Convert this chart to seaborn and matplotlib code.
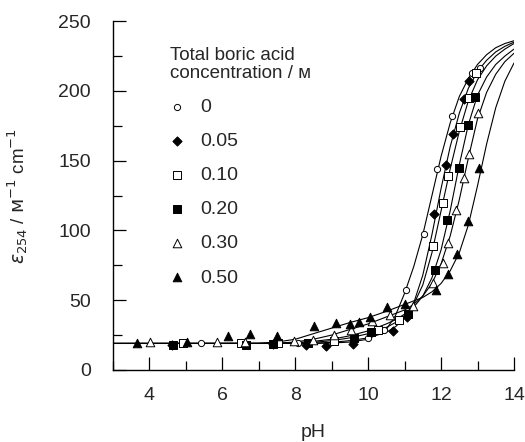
import matplotlib
matplotlib.use("Agg")
import matplotlib.pyplot as plt
from matplotlib.ticker import MultipleLocator
import seaborn as sns
import pandas as pd

# measured points, one pair of lists per total boric acid concentration
ph_0 = [5.42, 8.07, 10.0, 10.44, 11.04, 11.52, 11.9, 12.31, 12.86, 13.06]
eps_0 = [19.5, 19.5, 22.7, 29.0, 57.5, 97.3, 143.7, 182.0, 213.0, 216.7]

ph_005 = [4.62, 7.4, 8.3, 8.85, 9.58, 10.69, 11.07, 11.81, 12.13, 12.32, 12.62, 12.78]
eps_005 = [18.0, 18.3, 17.6, 17.4, 18.6, 28.0, 38.0, 111.5, 146.8, 169.5, 194.0, 207.0]

ph_010 = [4.91, 6.52, 7.53, 9.06, 10.27, 10.85, 11.79, 12.05, 12.2, 12.53, 12.76, 12.95]
eps_010 = [19.6, 19.6, 19.6, 20.5, 28.6, 35.8, 89.0, 119.4, 139.0, 174.0, 195.0, 213.0]

ph_020 = [4.65, 6.66, 7.4, 8.35, 9.6, 10.07, 11.1, 11.84, 12.16, 12.48, 12.73, 12.94]
eps_020 = [18.0, 17.7, 18.3, 19.0, 22.7, 27.4, 40.0, 72.0, 107.5, 145.0, 175.5, 196.0]

ph_030 = [4.02, 5.85, 6.61, 7.96, 8.5, 9.06, 9.54, 10.12, 10.6, 11.22, 11.79, 12.04,
          12.2, 12.41, 12.62, 12.76, 13.0]
eps_030 = [20.0, 20.0, 20.0, 21.0, 21.5, 25.0, 28.6, 35.3, 39.4, 45.8, 62.5, 76.4,
           91.0, 114.6, 137.7, 155.0, 184.0]

ph_050 = [3.65, 5.03, 6.16, 6.76, 7.5, 8.51, 9.12, 9.49, 9.74, 10.04, 10.53, 11.0,
          11.86, 12.19, 12.43, 12.74, 13.05]
eps_050 = [19.6, 19.8, 24.6, 25.8, 24.6, 31.5, 33.9, 33.0, 34.6, 38.2, 45.0, 47.5,
           57.3, 69.0, 83.0, 107.0, 145.0]

# fitted curves
ph_fit = [3, 7, 7.5, 8, 8.5, 9, 9.5, 10, 10.5, 10.75, 11, 11.25, 11.5, 11.75,
          12, 12.25, 12.5, 12.75, 13, 13.25, 13.5, 13.75, 14]
fit_0 = [19, 19, 19, 19, 19, 19.3, 20, 22, 29, 39, 55, 74, 97, 125,
         153, 177, 196, 209, 219, 226, 231, 234, 236]
fit_005 = [19, 19, 19, 19, 19.2, 19.8, 21, 23, 27, 31, 37, 48, 68, 97,
           130, 160, 184, 202, 214, 222, 228, 232, 235]
fit_010 = [19, 19, 19, 19.2, 19.8, 21, 23, 26, 30.5, 34, 39, 47, 61, 84,
           114, 144, 171, 193, 208, 218, 225, 230, 234]
fit_020 = [19, 19, 19, 19.5, 20.5, 22, 24.5, 28, 33, 36, 40, 45, 53, 66,
           86, 114, 147, 176, 197, 210, 219, 225, 230]
fit_030 = [19, 19, 19.2, 20, 22, 25, 29, 33, 38, 40.5, 43, 47, 53, 62,
           76, 96, 122, 152, 180, 199, 212, 221, 227]
fit_050 = [19, 19.2, 20, 22, 26, 30, 34, 37.5, 42, 44.5, 47, 49.5, 52, 56,
           62, 71, 84, 104, 132, 162, 188, 207, 220]

labels = ["0", "0.05", "0.10", "0.20", "0.30", "0.50"]
markers = ["o", "D", "s", "s", "^", "^"]
faces = ["white", "black", "white", "black", "white", "black"]
sizes = [20, 22, 26, 26, 38, 38]

points = [(ph_0, eps_0), (ph_005, eps_005), (ph_010, eps_010),
          (ph_020, eps_020), (ph_030, eps_030), (ph_050, eps_050)]
fits = [fit_0, fit_005, fit_010, fit_020, fit_030, fit_050]

sns.set_style("ticks")
plt.rcParams["font.family"] = ["Liberation Sans", "DejaVu Sans"]
plt.rcParams["mathtext.fontset"] = "dejavusans"

fig = plt.figure(figsize=(5.25, 4.42), dpi=100)
ax = fig.add_axes([0.215, 0.163, 0.764, 0.789])

for fit in fits:
    sns.lineplot(x=ph_fit, y=fit, ax=ax, color="black", linewidth=0.8,
                 estimator=None, sort=False, legend=False)

for (ph, eps), lab, m, fc, s in zip(points, labels, markers, faces, sizes):
    df = pd.DataFrame({"pH": ph, "eps": eps})
    sns.scatterplot(data=df, x="pH", y="eps", ax=ax, marker=m, s=s,
                    color=fc, edgecolor="black", linewidth=0.7,
                    label=lab, legend=False, zorder=3)

ax.set_xlim(3, 14)
ax.set_ylim(0, 250)
ax.xaxis.set_major_locator(MultipleLocator(2))
ax.xaxis.set_minor_locator(MultipleLocator(1))
ax.yaxis.set_major_locator(MultipleLocator(50))
ax.yaxis.set_minor_locator(MultipleLocator(25))
ax.set_xticks([4, 6, 8, 10, 12, 14])

ax.tick_params(axis="both", which="major", direction="in", length=9.5,
               width=0.9, labelsize=14, color="black")
ax.tick_params(axis="both", which="minor", direction="in", length=6.5,
               width=0.9, color="black")
ax.tick_params(axis="x", which="major", pad=12)
ax.tick_params(axis="y", which="major", pad=16)

sns.despine(ax=ax)
for side in ["left", "bottom"]:
    ax.spines[side].set_linewidth(1.0)
    ax.spines[side].set_color("black")

ax.set_xlabel("pH", fontsize=14, labelpad=15)
ax.set_ylabel(r"$\varepsilon_{254}$ / $\mathrm{ᴍ}^{-1}$ cm$^{-1}$", fontsize=13.5,
              labelpad=20)

handles, labs = ax.get_legend_handles_labels()
leg = ax.legend(handles, labs, title="Total boric acid\nconcentration / ᴍ",
                loc="upper left", bbox_to_anchor=(0.142, 0.926), frameon=False,
                fontsize=14, title_fontsize=13.5, alignment="left",
                handlelength=0.7, handletextpad=0.85, labelspacing=0.85,
                borderpad=0, borderaxespad=0, markerscale=1.0)
leg.get_title().set_linespacing(1.05)

fig.savefig("out.png", dpi=100)
